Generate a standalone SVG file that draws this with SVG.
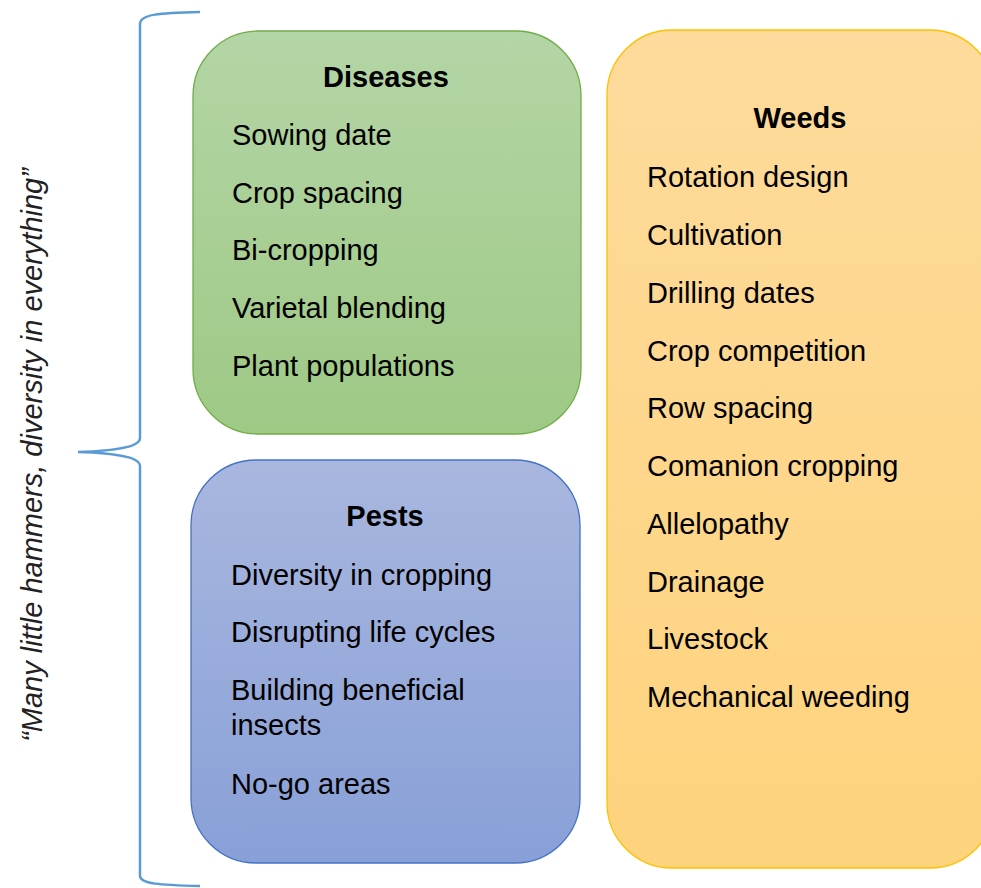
<svg xmlns="http://www.w3.org/2000/svg" width="981" height="888" viewBox="0 0 981 888">
<defs>
<linearGradient id="gGreen" x1="0" y1="0" x2="0" y2="1"><stop offset="0" stop-color="#b4d5a6"/><stop offset="1" stop-color="#9ec985"/></linearGradient>
<linearGradient id="gBlue" x1="0" y1="0" x2="0" y2="1"><stop offset="0" stop-color="#a9b7df"/><stop offset="1" stop-color="#88a0d7"/></linearGradient>
<linearGradient id="gOrange" x1="0" y1="0" x2="0" y2="1"><stop offset="0" stop-color="#fedb9c"/><stop offset="1" stop-color="#fed37d"/></linearGradient>
<style>
text{font-family:"Liberation Sans",Arial,sans-serif;fill:#000;}
.t{font-size:29px;font-weight:bold;text-anchor:middle;}
.i{font-size:29px;}
.q{font-size:29px;font-style:italic;fill:#222;}
.box{stroke-width:1.3;}
</style>
</defs>
<rect width="981" height="888" fill="#ffffff"/>
<g id="connectors">
<path d="M200,12 C160,13 140,14 140,24 L140,438 C140,448 110,451 78,452 C110,453 140,456 140,466 L140,876 C140,884 160,885 200,886" fill="none" stroke="#5b9bd5" stroke-width="2.5"/>
</g>
<g id="label">
<text class="q" transform="translate(42,455) rotate(-90)" text-anchor="middle">“Many little hammers, diversity in everything”</text>
</g>
<g id="diseases">
<rect class="box" x="193" y="31" width="388" height="403" rx="65" ry="65" fill="url(#gGreen)" stroke="#70ad47"/>
<text class="t" x="386" y="87">Diseases</text>
<text class="i" x="232" y="145">Sowing date</text>
<text class="i" x="232" y="203">Crop spacing</text>
<text class="i" x="232" y="260">Bi-cropping</text>
<text class="i" x="232" y="318">Varietal blending</text>
<text class="i" x="232" y="376">Plant populations</text>
</g>
<g id="pests">
<rect class="box" x="191" y="460" width="389" height="403" rx="65" ry="65" fill="url(#gBlue)" stroke="#4472c4"/>
<text class="t" x="385" y="526">Pests</text>
<text class="i" x="231" y="585">Diversity in cropping</text>
<text class="i" x="231" y="642">Disrupting life cycles</text>
<text class="i" x="231" y="700">Building beneficial</text>
<text class="i" x="231" y="735">insects</text>
<text class="i" x="231" y="794">No-go areas</text>
</g>
<g id="weeds">
<rect class="box" x="607" y="30" width="388" height="838" rx="65" ry="65" fill="url(#gOrange)" stroke="#ffc000"/>
<text class="t" x="800" y="128">Weeds</text>
<text class="i" x="647" y="187">Rotation design</text>
<text class="i" x="647" y="245">Cultivation</text>
<text class="i" x="647" y="303">Drilling dates</text>
<text class="i" x="647" y="361">Crop competition</text>
<text class="i" x="647" y="418">Row spacing</text>
<text class="i" x="647" y="476">Comanion cropping</text>
<text class="i" x="647" y="534">Allelopathy</text>
<text class="i" x="647" y="592">Drainage</text>
<text class="i" x="647" y="649">Livestock</text>
<text class="i" x="647" y="707">Mechanical weeding</text>
</g>
</svg>
